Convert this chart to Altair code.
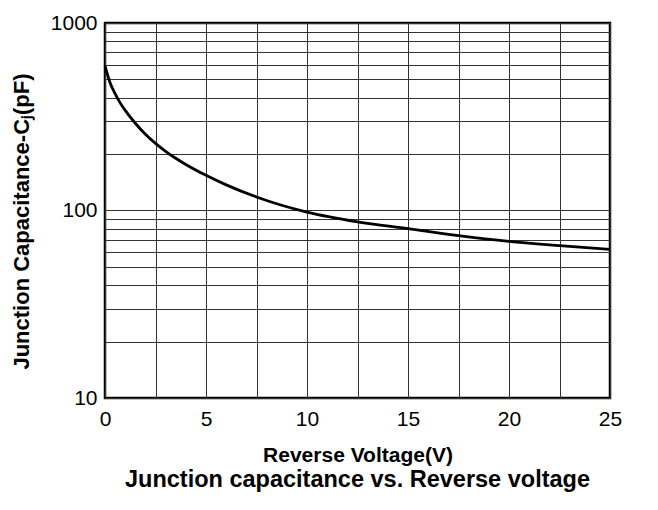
import altair as alt
import pandas as pd

voltage = [0, 0.25, 0.5, 0.75, 1, 1.5, 2, 2.5, 3, 3.5, 4, 5, 6, 7.5, 10, 12.5, 15, 17.5, 20, 22.5, 25]
capacitance = [590, 480, 420, 375, 342, 292, 255, 228, 207, 190, 176, 154, 137, 118, 98, 87, 80, 73.5, 68.5, 65, 62]

x_grid = [0, 2.5, 5, 7.5, 10, 12.5, 15, 17.5, 20, 22.5, 25]
y_grid = [10, 20, 30, 40, 50, 60, 70, 80, 90,
          100, 200, 300, 400, 500, 600, 700, 800, 900, 1000]

df = pd.DataFrame({"V": voltage, "C": capacitance})

chart = alt.Chart(df).mark_line(
    color="black", strokeWidth=2.8, interpolate="monotone"
).encode(
    x=alt.X(
        "V:Q",
        scale=alt.Scale(domain=[0, 25], nice=False, zero=False),
        axis=alt.Axis(
            values=x_grid,
            labelExpr="datum.value % 5 == 0 ? datum.value : ''",
            labelFlush=False,
            title="Reverse Voltage(V)",
            titleFontSize=21,
            titleFontWeight="bold",
            titleBaseline="alphabetic",
            titleY=63,
            labelPadding=10,
        ),
    ),
    y=alt.Y(
        "C:Q",
        scale=alt.Scale(type="log", domain=[10, 1000], nice=False),
        axis=alt.Axis(
            values=y_grid,
            labelExpr="indexof([10, 100, 1000], datum.value) >= 0 ? '' + datum.value : ''",
            labelFlush=False,
            title="Junction Capacitance-Cⱼ(pF)",
            titleFontSize=22,
            titleFontWeight="bold",
            titleBaseline="alphabetic",
            titleAngle=-90,
            titleAlign="center",
            titleX=-77,
            titleY=198,
            labelPadding=8,
        ),
    ),
).properties(
    width=505,
    height=375,
    title=alt.TitleParams(
        "Junction capacitance vs. Reverse voltage",
        orient="bottom",
        anchor="middle",
        fontSize=23.5,
        fontWeight="bold",
        font="Liberation Sans",
        color="black",
        offset=3,
    ),
    autosize=alt.AutoSizeParams(type="none"),
    padding={"left": 97, "top": 15, "right": 40, "bottom": 105},
).configure(
    background="white"
).configure_view(
    stroke="black", strokeWidth=2.5
).configure_axis(
    domain=False,
    ticks=False,
    tickSize=0,
    grid=True,
    gridColor="#333333",
    gridWidth=1,
    gridOpacity=1,
    labelFont="Liberation Sans",
    labelFontSize=21,
    labelColor="black",
    titleFont="Liberation Sans",
    titleColor="black",
)

chart.save("out.html", embed_options={"renderer": "svg", "actions": False})
